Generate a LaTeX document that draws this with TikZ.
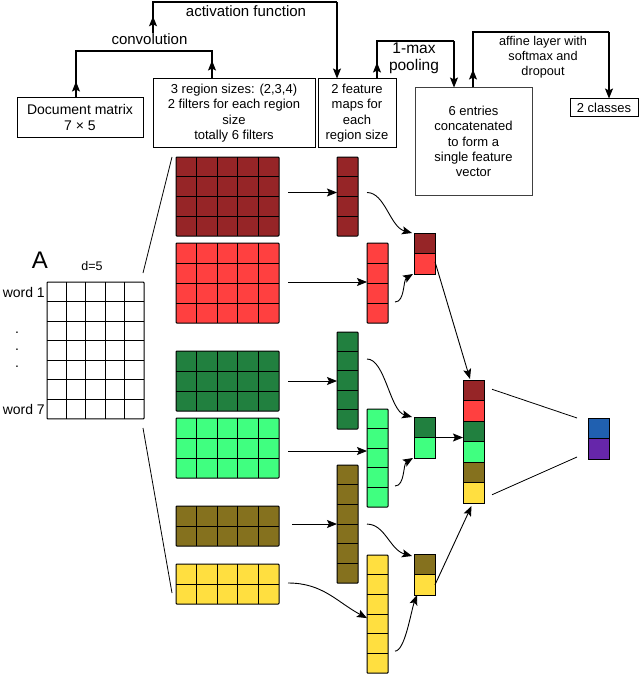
\documentclass[tikz,border=0pt]{standalone}
\usepackage{fontspec}
\setmainfont{Liberation Sans}
\usetikzlibrary{arrows.meta,calc}
\definecolor{dred}{HTML}{962527}
\definecolor{lred}{HTML}{FF4040}
\definecolor{dgreen}{HTML}{21803F}
\definecolor{lgreen}{HTML}{40FF80}
\definecolor{olive}{HTML}{85711E}
\definecolor{yel}{HTML}{FFDF40}
\definecolor{oblue}{HTML}{2060B0}
\definecolor{opurple}{HTML}{6626AA}
\tikzset{
  gridbox/.style={draw=black, line width=1pt, inner sep=0pt, outer sep=0pt, rounded corners=0.8pt},
  gridline/.style={black, line width=0.9pt},
  cell/.style={draw=black, line width=1pt, inner sep=0pt, outer sep=0pt, minimum width=21pt, minimum height=20.5pt},
  tbox/.style={draw=black, line width=1pt, align=center, inner sep=0pt, font=\fontsize{13}{15.3}\selectfont},
  lab/.style={font=\fontsize{15}{17}\selectfont, inner sep=0pt, align=center},
  conn/.style={line width=1.2pt},
  arr/.style={line width=1.1pt, -{Stealth[length=10pt,width=8pt,inset=2pt]}},
  carr/.style={line width=0.9pt, -{Stealth[length=10pt,width=8pt,inset=2pt]}},
  thinline/.style={line width=0.8pt},
}
\newcommand{\mgrid}[8]{%
  \node[gridbox, fill=#8, minimum width=#4*#6pt, minimum height=#5*#7pt, anchor=north west] (#1) at (#2,#3) {};
  \foreach \k in {1,...,#4}{\ifnum\k<#4 \draw[gridline] ($(#1.north west)+(\k*#6,0)$) -- ($(#1.south west)+(\k*#6,0)$);\fi}
  \foreach \k in {1,...,#5}{\ifnum\k<#5 \draw[gridline] ($(#1.north west)+(0,\k*#7)$) -- ($(#1.north east)+(0,\k*#7)$);\fi}
}
\begin{document}
\begin{tikzpicture}[x=1pt,y=-1pt]
\useasboundingbox (0,0) rectangle (640,674);

% ---------- top boxes ----------
\node[tbox, minimum width=126pt, minimum height=39pt, font=\fontsize{14}{15.5}\selectfont] (doc) at (80,117.5) {Document matrix\\7 × 5};
\node[tbox, minimum width=162pt, minimum height=68pt] (filt) at (234,113) {3 region sizes: (2,3,4)\\2 filters for each region\\size\\totally 6 filters};
\node[tbox, minimum width=78pt, minimum height=68pt] (fmap) at (357,113) {2 feature\\maps for\\each\\region size};
\node[tbox, minimum width=117pt, minimum height=107pt, draw=black!75] (ent) at (473.5,141.5) {6 entries\\concatenated\\to form a\\single feature\\vector};
\node[tbox, minimum width=68pt, minimum height=18pt] (cls) at (604,108) {2 classes};

% ---------- labels ----------
\node[lab] (conv) at (149.5,39) {convolution};
\node[lab] (act) at (246,11) {activation function};
\node[lab, font=\fontsize{15.5}{17}\selectfont] (pool) at (414,58) {1-max\\pooling};
\node[lab, font=\fontsize{12.7}{15}\selectfont] (aff) at (543,57) {affine layer with\\softmax and\\dropout};

% ---------- top connectors ----------
\coordinate (cv1) at (76,51); \coordinate (cv2) at (212,51);
\draw[conn] (doc.north -| cv1) -- (cv1) -- (cv2) -- (filt.north -| cv2);
\draw[arr] (doc.north -| cv1) -- ++(0,-16);
\draw[arr] (filt.north -| cv2) -- ++(0,-18);

\coordinate (ac1) at (153,2); \coordinate (ac2) at (337,2);
\draw[conn] (conv.north -| ac1) -- (ac1) -- (ac2);
\draw[arr] (ac2) -- (fmap.north -| ac2);
\draw[arr] (conv.north -| ac1) -- ++(0,-17);

\coordinate (pl1) at (377,41); \coordinate (pl2) at (454,41);
\draw[conn] (fmap.north -| pl1) -- (pl1) -- (pl2);
\draw[arr] (pl2) -- (ent.north -| pl2);
\draw[arr] (fmap.north -| pl1) -- ++(0,-16);

\coordinate (af1) at (473,32); \coordinate (af2) at (609,32);
\draw[conn] (ent.north -| af1) -- (af1) -- (af2);
\draw[arr] (af2) -- (cls.north -| af2);
\draw[arr] (ent.north -| af1) -- ++(0,-18);

% ---------- matrix A ----------
\node[font=\fontsize{24}{24}\selectfont, inner sep=0pt] (Alab) at (40,260) {A};
\node[font=\fontsize{12.5}{14}\selectfont, inner sep=0pt] (dlab) at (92,266) {d=5};
\node[font=\fontsize{14}{16}\selectfont, inner sep=0pt, anchor=east] (w1) at (45,292) {word 1};
\node[font=\fontsize{14}{16}\selectfont, inner sep=0pt, anchor=east] (w7) at (45,409) {word 7};
\node[font=\fontsize{14}{16}\selectfont, inner sep=0pt] (dt1) at (17,333) {.};
\node[font=\fontsize{14}{16}\selectfont, inner sep=0pt] (dt2) at (17,350) {.};
\node[font=\fontsize{14}{16}\selectfont, inner sep=0pt] (dt3) at (17,367) {.};
\mgrid{A}{47}{282}{5}{7}{19.4}{19.57}{white}

% ---------- filters ----------
\mgrid{f1}{176}{157}{5}{4}{20.6}{19.75}{dred}
\mgrid{f2}{176}{243}{5}{4}{20.6}{20}{lred}
\mgrid{f3}{176}{351}{5}{3}{20.6}{20}{dgreen}
\mgrid{f4}{176}{418}{5}{3}{20.6}{20}{lgreen}
\mgrid{f5}{176}{506}{5}{2}{20.6}{20}{olive}
\mgrid{f6}{176}{564}{5}{2}{20.6}{20}{yel}

\draw[thinline] ($(A.north east)+(-1,-9)$) -- ($(f1.north west)+(-4,0)$);
\draw[thinline] ($(A.south east)+(-1,9)$) -- ($(f6.west)+(-4,9)$);

% ---------- feature maps ----------
\mgrid{m1}{337}{157}{1}{4}{21}{19.75}{dred}
\mgrid{m2}{367}{243}{1}{4}{21}{20}{lred}
\mgrid{m3}{337}{332}{1}{5}{21}{19.4}{dgreen}
\mgrid{m4}{367}{409}{1}{5}{21}{19.6}{lgreen}
\mgrid{m5}{337}{465}{1}{6}{21}{19.7}{olive}
\mgrid{m6}{367}{555}{1}{6}{21}{19.7}{yel}

\draw[carr] ($(f1.east)+(9,-4)$) -- ($(m1.west)+(0,-4)$);
\draw[carr] ($(f2.east)+(9,-1)$) -- ($(m2.west)+(0,-1)$);
\draw[carr] ($(f3.east)+(9,0)$) -- (m3.west |- f3.east);
\draw[carr] ($(f4.east)+(9,3)$) -- ($(m4.west |- f4.east)+(0,3)$);
\draw[carr] ($(f5.east)+(13,-2)$) -- ($(m5.west |- f5.east)+(0,-2)$);
\draw[carr] ($(f6.east)+(9,-1)$) .. controls +(35,0) and +(-30,-16) .. ($(m6.west)+(0,4)$);

% ---------- pooled ----------
\node[cell, anchor=north west, fill=dred] (p1a) at (414,233) {};
\node[cell, anchor=north, fill=lred] (p1b) at (p1a.south) {};
\node[cell, anchor=north west, fill=dgreen] (p2a) at (414,417) {};
\node[cell, anchor=north, fill=lgreen] (p2b) at (p2a.south) {};
\node[cell, anchor=north west, fill=olive] (p3a) at (414,554) {};
\node[cell, anchor=north, fill=yel] (p3b) at (p3a.south) {};

\draw[carr] ($(m1.east)+(9,-4)$) .. controls +(18,0) and +(-22,-6) .. ($(p1a.north west)+(-2,0)$);
\draw[carr] ($(m2.east)+(7,19)$) .. controls +(10,0) and +(-10,6) .. ($(p1b.south west)+(-1,0)$);
\draw[carr] ($(m3.east)+(9,-21.5)$) .. controls +(18,0) and +(-22,-6) .. ($(p2a.north west)+(-2,0)$);
\draw[carr] ($(m4.east)+(7,28)$) .. controls +(10,0) and +(-10,6) .. ($(p2b.south west)+(-1,0)$);
\draw[carr] ($(m5.east)+(9,0)$) .. controls +(18,0) and +(-22,-6) .. ($(p3a.north west)+(-2,2)$);
\draw[carr] ($(m6.east)+(7,37)$) .. controls +(10,0) and +(-6,16) .. ($(p3b.south west)+(3,0)$);

% ---------- concatenated vector ----------
\node[cell, anchor=north west, fill=dred] (c1) at (463,380) {};
\node[cell, anchor=north, fill=lred] (c2) at (c1.south) {};
\node[cell, anchor=north, fill=dgreen] (c3) at (c2.south) {};
\node[cell, anchor=north, fill=lgreen] (c4) at (c3.south) {};
\node[cell, anchor=north, fill=olive] (c5) at (c4.south) {};
\node[cell, anchor=north, fill=yel] (c6) at (c5.south) {};

\draw[carr] ($(p1b.east)+(0,-2)$) -- ($(c1.north west)+(7,-1)$);
\draw[carr] (p2a.south east) -- (c4.west |- p2a.south east);
\draw[carr] (p3b.east) -- ($(c6.south)+(-2,3)$);

% ---------- output ----------
\node[cell, anchor=north west, fill=oblue] (o1) at (588,418) {};
\node[cell, anchor=north, fill=opurple] (o2) at (o1.south) {};
\draw[thinline] ($(c1.east)+(8,-1)$) -- ($(o1.north west)+(-11,0)$);
\draw[thinline] ($(c6.east)+(8,2)$) -- ($(o2.south west)+(-11,-2)$);
\end{tikzpicture}
\end{document}
